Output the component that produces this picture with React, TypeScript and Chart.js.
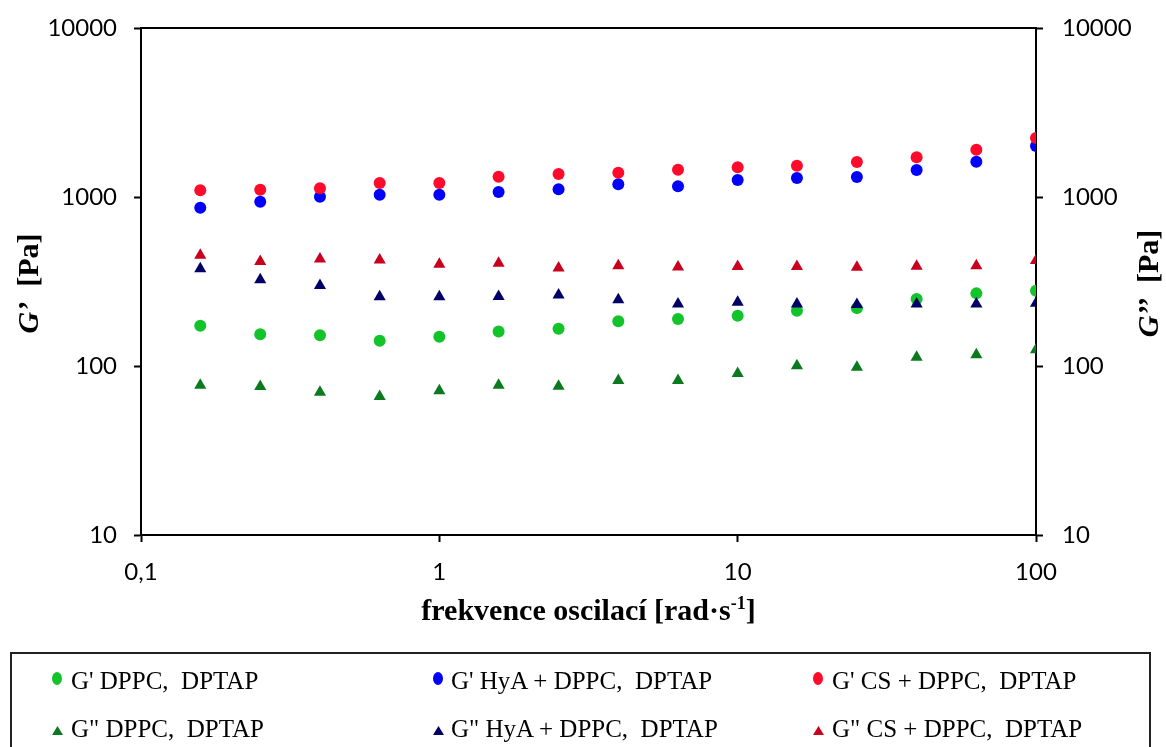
import React, { useEffect, useRef } from "react";
import { Chart, registerables } from "chart.js";

Chart.register(...registerables);

// ---- data ----
const frequencies = [0.158, 0.251, 0.398, 0.631, 1, 1.58, 2.51, 3.98, 6.31, 10, 15.8, 25.1, 39.8, 63.1, 100];
const gpDPPC = [173, 154, 152, 141, 149, 160, 166, 184, 190, 198, 212, 220, 249, 269, 279];
const gppDPPC = [76.9, 75.6, 69.9, 66.0, 71.4, 76.9, 75.9, 82.1, 82.1, 90.3, 100.3, 98.4, 112.7, 116.5, 124.9];
const gpHyA = [864, 938, 1004, 1032, 1032, 1071, 1111, 1189, 1157, 1261, 1295, 1313, 1445, 1618, 2003];
const gppHyA = [376, 324, 299, 257, 257, 258, 263, 247, 233, 238, 233, 231, 233, 233, 235];
const gpCS = [1095, 1105, 1126, 1210, 1210, 1318, 1368, 1392, 1450, 1498, 1532, 1611, 1718, 1905, 2235];
const gppCS = [452, 415, 430, 424, 400, 406, 380, 392, 385, 388, 388, 384, 389, 392, 421];

const xTickValues = [0.1, 1, 10, 100];
const xTickLabels = ["0,1", "1", "10", "100"];
const yTickValues = [10, 100, 1000, 10000];
const yTickLabels = ["10", "100", "1000", "10000"];

const seriesLabels = [
  "G' DPPC,  DPTAP",
  "G' HyA + DPPC,  DPTAP",
  "G' CS + DPPC,  DPTAP",
  'G" DPPC,  DPTAP',
  'G" HyA + DPPC,  DPTAP',
  'G" CS + DPPC,  DPTAP',
];
const seriesColors = ["#12C42A", "#0000FF", "#FF0A2A", "#0B7A1E", "#000066", "#C8001E"];
const seriesShapes = ["circle", "circle", "circle", "triangle", "triangle", "triangle"];
const seriesValues = [gpDPPC, gpHyA, gpCS, gppDPPC, gppHyA, gppCS];

const xTitleMain = "frekvence oscilací [rad·s";
const xTitleSup = "-1";
const xTitleEnd = "]";
const yTitleLeftSym = "G’";
const yTitleRightSym = "G’’";
const yTitleUnit = "[Pa]";

const SERIF = "'Liberation Serif', 'Times New Roman', serif";
const SANS = "Lato, 'Open Sans', sans-serif";

const titlesPlugin = {
  id: "titlesPlugin",
  afterDraw(chart: any) {
    const { ctx, chartArea } = chart;
    ctx.save();
    ctx.fillStyle = "#000";
    // top frame line
    ctx.strokeStyle = "#000";
    ctx.lineWidth = 2;
    ctx.beginPath();
    ctx.moveTo(chartArea.left, chartArea.top);
    ctx.lineTo(chartArea.right, chartArea.top);
    ctx.stroke();

    // x title
    const mainFont = `bold 30px ${SERIF}`;
    const supFont = `bold 18px ${SERIF}`;
    ctx.font = mainFont;
    const w1 = ctx.measureText(xTitleMain).width;
    const w3 = ctx.measureText(xTitleEnd).width;
    ctx.font = supFont;
    const w2 = ctx.measureText(xTitleSup).width;
    const total = w1 + w2 + w3;
    const cx = (chartArea.left + chartArea.right) / 2;
    const by = chartArea.bottom + 85;
    let x = cx - total / 2;
    ctx.textBaseline = "alphabetic";
    ctx.textAlign = "left";
    ctx.font = mainFont;
    ctx.fillText(xTitleMain, x, by);
    x += w1;
    ctx.font = supFont;
    ctx.fillText(xTitleSup, x, by - 11);
    x += w2;
    ctx.font = mainFont;
    ctx.fillText(xTitleEnd, x, by);

    // y titles
    const drawY = (sym: string, px: number) => {
      const cy = (chartArea.top + chartArea.bottom) / 2 + 2;
      const symFont = `italic bold 30px ${SERIF}`;
      const unitFont = `bold 30px ${SERIF}`;
      ctx.font = symFont;
      const ws = ctx.measureText(sym).width;
      ctx.font = unitFont;
      const gap = ctx.measureText("  ").width;
      const wu = ctx.measureText(yTitleUnit).width;
      const tot = ws + gap + wu;
      ctx.save();
      ctx.translate(px, cy);
      ctx.rotate(-Math.PI / 2);
      ctx.textBaseline = "middle";
      ctx.textAlign = "left";
      ctx.font = symFont;
      ctx.fillText(sym, -tot / 2, 0);
      ctx.font = unitFont;
      ctx.fillText(yTitleUnit, -tot / 2 + ws + gap, 0);
      ctx.restore();
    };
    drawY(yTitleLeftSym, 30);
    drawY(yTitleRightSym, chart.width - 16);
    ctx.restore();
  },
};

function LegendMarker({ shape, color }: { shape: string; color: string }) {
  if (shape === "circle") {
    return (
      <svg width={10} height={13} style={{ display: "block" }}>
        <ellipse cx={5} cy={6.5} rx={5} ry={6.5} fill={color} />
      </svg>
    );
  }
  return (
    <svg width={11} height={9} style={{ display: "block" }}>
      <polygon points="5.5,0 11,9 0,9" fill={color} />
    </svg>
  );
}

export default function App() {
  const ref = useRef<HTMLCanvasElement | null>(null);

  useEffect(() => {
    if (!ref.current) return;
    const tickGrid = {
      display: true,
      drawOnChartArea: false,
      drawTicks: true,
      tickLength: 7,
      tickWidth: 2,
      tickColor: "#000",
      color: "#000",
    };
    const border = { display: true, color: "#000", width: 2 };
    const tickFont = { family: SANS, size: 24 };

    const datasets = seriesValues.map((vals, i) => ({
      label: seriesLabels[i],
      data: frequencies.map((f, j) => ({ x: f, y: vals[j] })),
      yAxisID: i < 3 ? "y" : "y2",
      showLine: false,
      pointStyle: seriesShapes[i],
      pointRadius: seriesShapes[i] === "circle" ? 6 : 7,
      pointHoverRadius: seriesShapes[i] === "circle" ? 6 : 7,
      pointBackgroundColor: seriesColors[i],
      pointBorderColor: seriesColors[i],
      pointBorderWidth: 0,
      backgroundColor: seriesColors[i],
      borderColor: seriesColors[i],
      order: [3, 2, 1, 3, 2, 1][i],
    }));

    const chart = new Chart(ref.current, {
      type: "scatter",
      data: { datasets },
      options: {
        responsive: false,
        animation: false,
        events: [],
        layout: { padding: { top: 28, left: 0, right: 0, bottom: 0 } },
        plugins: { legend: { display: false }, tooltip: { enabled: false } },
        scales: {
          x: {
            type: "logarithmic",
            position: "bottom",
            min: 0.1,
            max: 100,
            afterBuildTicks: (s: any) => {
              s.ticks = xTickValues.map((v) => ({ value: v }));
            },
            afterFit: (s: any) => {
              s.height = 212;
              s.paddingLeft = 0;
              s.paddingRight = 0;
            },
            ticks: {
              autoSkip: false,
              maxRotation: 0,
              padding: 16,
              color: "#000",
              font: tickFont,
              callback: (_v: any, i: number) => xTickLabels[i],
            },
            grid: tickGrid,
            border,
          },
          y: {
            type: "logarithmic",
            position: "left",
            min: 10,
            max: 10000,
            afterBuildTicks: (s: any) => {
              s.ticks = yTickValues.map((v) => ({ value: v }));
            },
            afterFit: (s: any) => {
              s.width = 141;
              s.paddingTop = 0;
              s.paddingBottom = 0;
            },
            ticks: {
              autoSkip: false,
              padding: 17,
              color: "#000",
              font: tickFont,
              callback: (_v: any, i: number) => yTickLabels[i],
            },
            grid: tickGrid,
            border,
          },
          y2: {
            type: "logarithmic",
            position: "right",
            min: 10,
            max: 10000,
            afterBuildTicks: (s: any) => {
              s.ticks = yTickValues.map((v) => ({ value: v }));
            },
            afterFit: (s: any) => {
              s.width = 130;
              s.paddingTop = 0;
              s.paddingBottom = 0;
            },
            ticks: {
              autoSkip: false,
              padding: 19,
              color: "#000",
              font: tickFont,
              callback: (_v: any, i: number) => yTickLabels[i],
            },
            grid: tickGrid,
            border,
          },
        },
      } as any,
      plugins: [titlesPlugin],
    });
    return () => chart.destroy();
  }, []);

  const colText = [71, 451, 832];
  const colMarker = [57, 438, 818];
  const rowCenter = [681, 729];

  return (
    <div
      style={{
        position: "fixed",
        left: 0,
        top: 0,
        width: 1166,
        height: 747,
        overflow: "hidden",
        background: "#fff",
      }}
    >
      <canvas
        ref={ref}
        width={1166}
        height={747}
        style={{ position: "absolute", left: 0, top: 0, width: 1166, height: 747 }}
      />
      <div
        style={{
          position: "absolute",
          left: 10,
          top: 652,
          width: 1141,
          height: 200,
          border: "2px solid #222",
          boxSizing: "border-box",
        }}
      />
      {seriesLabels.map((label, i) => {
        const col = i % 3;
        const row = Math.floor(i / 3);
        const isCircle = seriesShapes[i] === "circle";
        const mh = isCircle ? 13 : 9;
        return (
          <React.Fragment key={label}>
            <div
              style={{
                position: "absolute",
                left: colMarker[col] - 5,
                top: rowCenter[row] - (isCircle ? 3 : -1) - mh / 2,
              }}
            >
              <LegendMarker shape={seriesShapes[i]} color={seriesColors[i]} />
            </div>
            <div
              style={{
                position: "absolute",
                left: colText[col],
                top: rowCenter[row] - 15,
                height: 30,
                lineHeight: "30px",
                fontFamily: SERIF,
                fontSize: 25,
                color: "#000",
                whiteSpace: "pre",
              }}
            >
              {label}
            </div>
          </React.Fragment>
        );
      })}
    </div>
  );
}
